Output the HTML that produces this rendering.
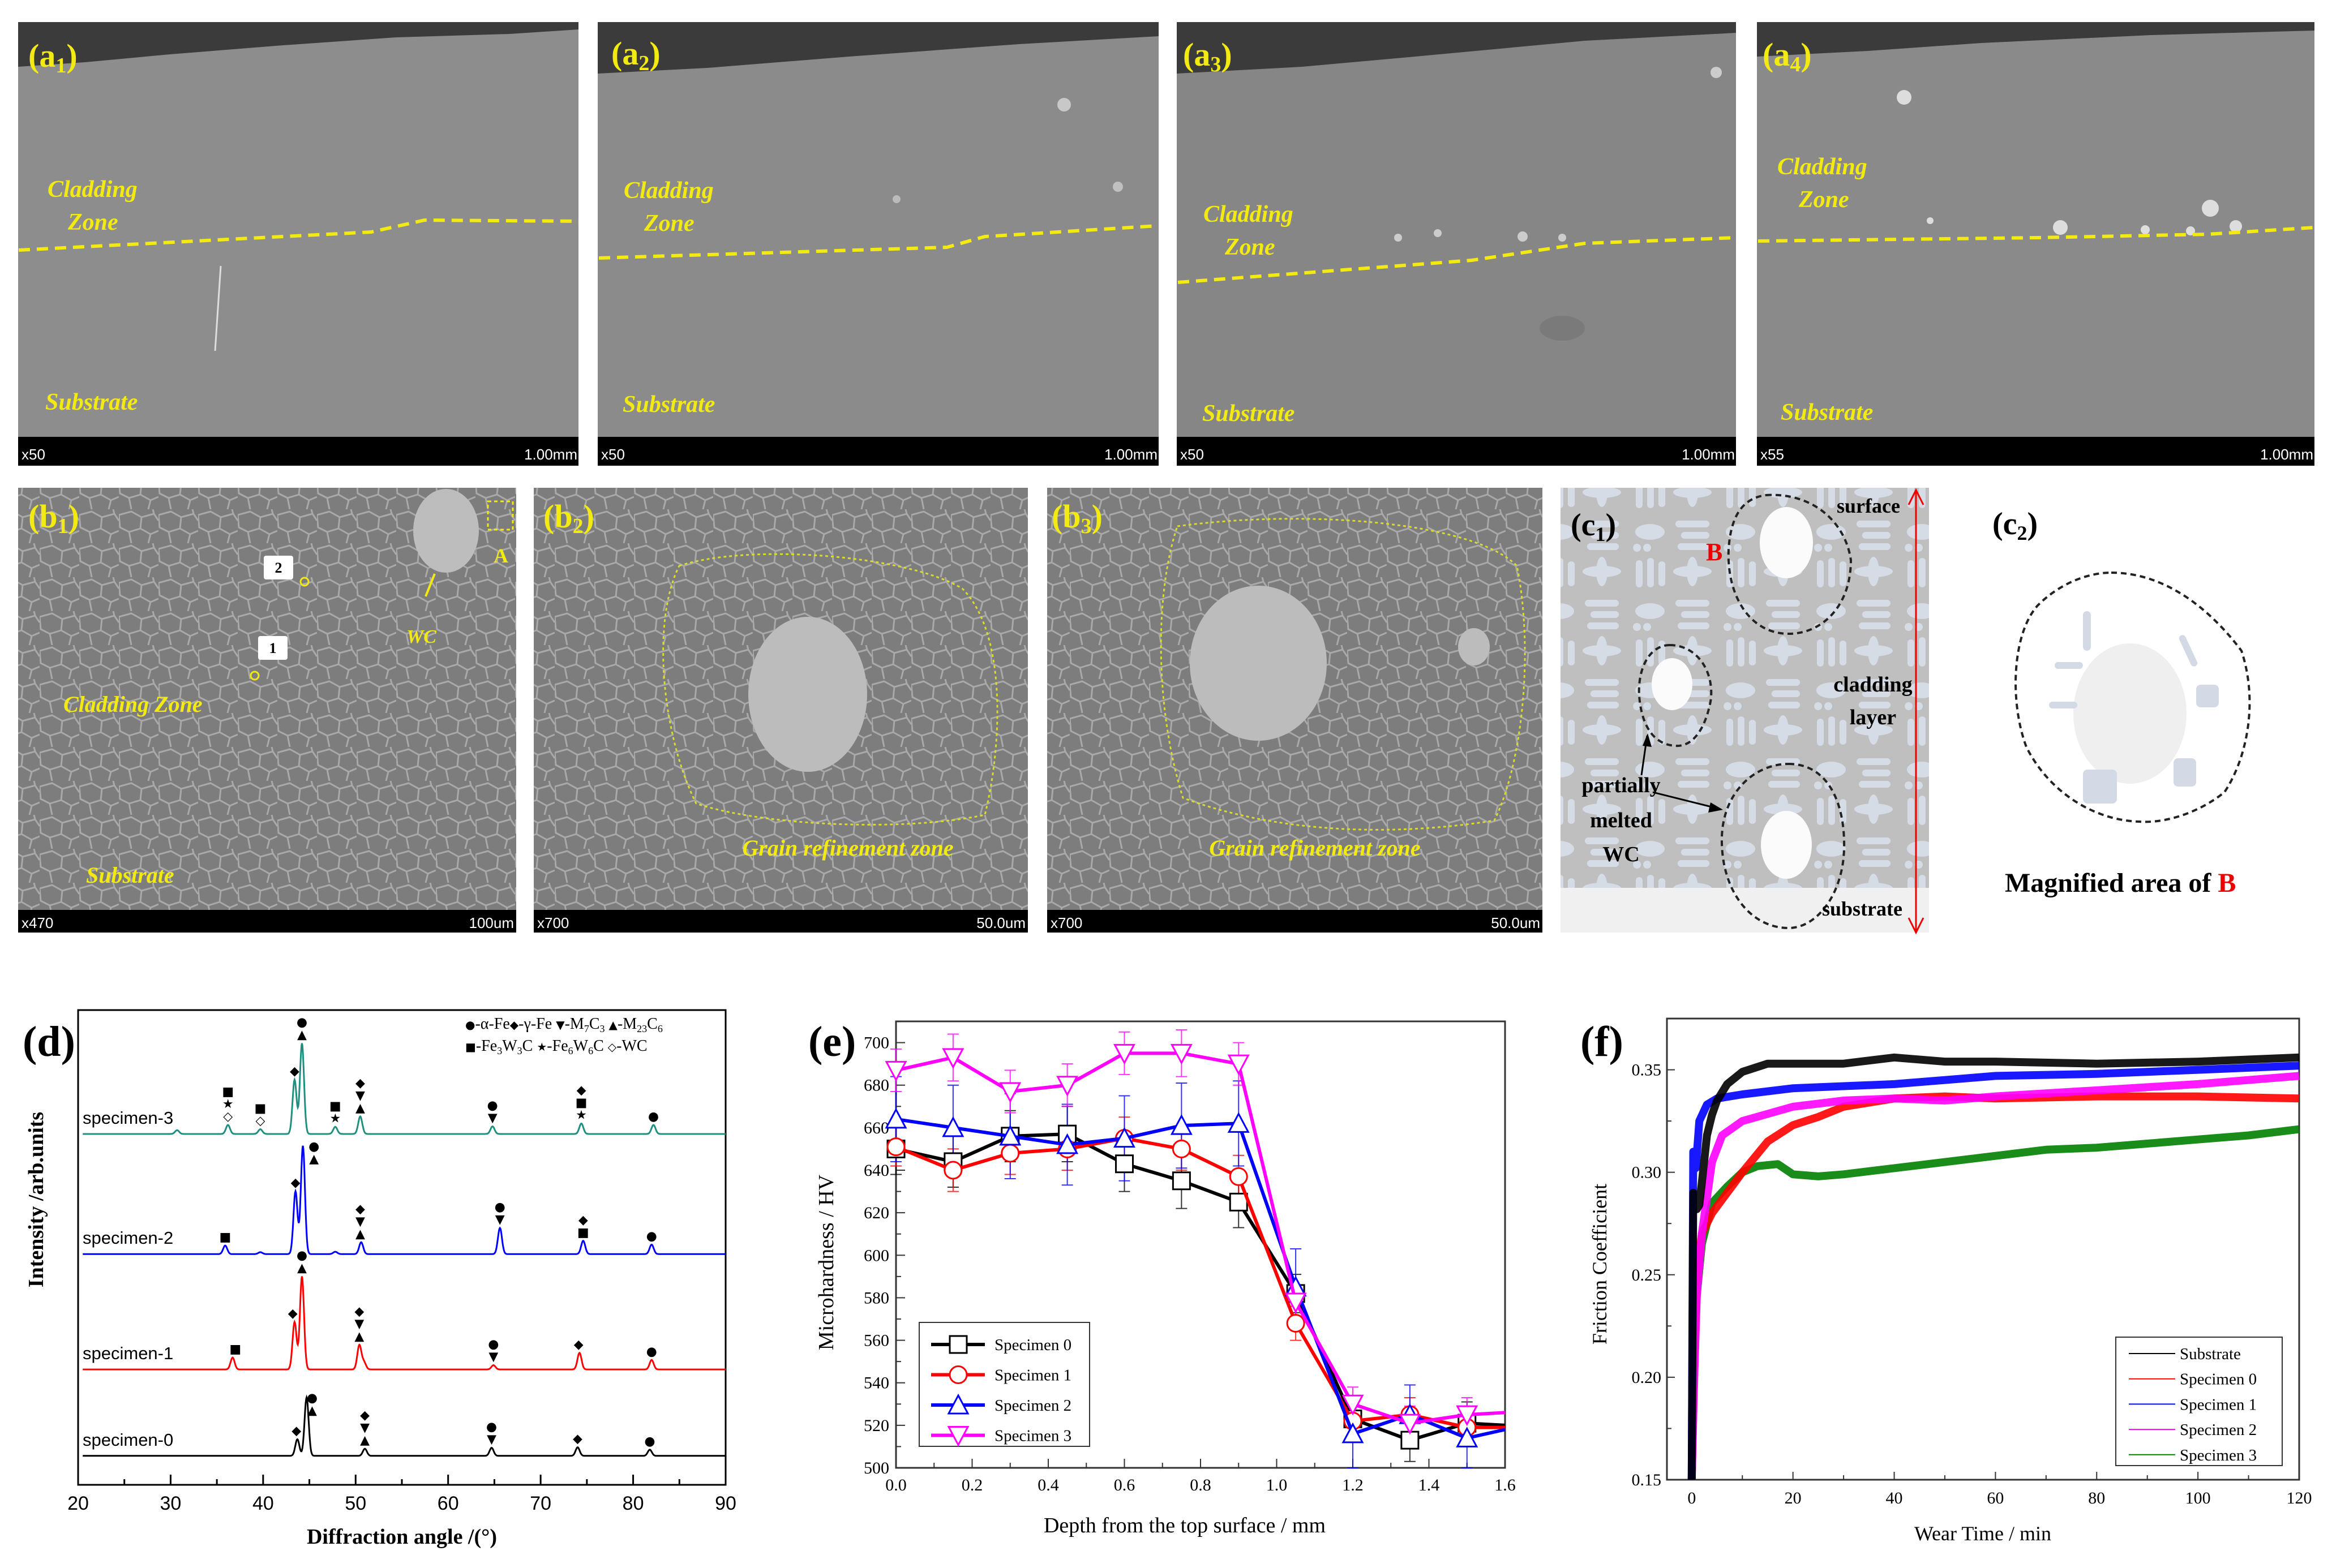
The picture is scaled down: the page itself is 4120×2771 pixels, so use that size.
<!DOCTYPE html>
<html><head><meta charset="utf-8"><style>
html,body{margin:0;padding:0;background:#fff;}
svg{display:block;}
.lab{font-family:"Liberation Serif",serif;font-weight:bold;}
.yl{font-family:"Liberation Serif",serif;font-style:italic;font-weight:bold;fill:#f2ea10;}
.sb{font-family:"Liberation Sans",sans-serif;fill:#fff;font-size:26px;}
.serif{font-family:"Liberation Serif",serif;}
.sans{font-family:"Liberation Sans",sans-serif;}
.sym{font-family:"DejaVu Sans",sans-serif;}
</style></head><body>
<svg id="fig" width="4120" height="2771" viewBox="0 0 4120 2771" xmlns="http://www.w3.org/2000/svg">
<defs>
<pattern id="cells" width="70" height="60" patternUnits="userSpaceOnUse">
<rect width="70" height="60" fill="#7d7d7d"/>
<path d="M0 10 L22 4 L40 14 L38 34 L18 40 L2 32 Z M40 14 L62 8 L70 20 M38 34 L56 44 L70 38 M18 40 L22 60 M56 44 L52 60 M62 8 L60 0" stroke="#a9a9a9" stroke-width="3" fill="none"/>
</pattern>
<pattern id="dend" width="160" height="140" patternUnits="userSpaceOnUse">
<rect width="160" height="140" fill="#bfbfbf"/>
<g fill="#d6dce6">
<rect x="10" y="10" width="12" height="48" rx="6"/><rect x="30" y="6" width="12" height="52" rx="6"/><rect x="50" y="12" width="12" height="44" rx="6"/>
<ellipse cx="110" cy="30" rx="34" ry="10"/><ellipse cx="110" cy="30" rx="10" ry="26"/>
<rect x="80" y="80" width="60" height="12" rx="6"/><rect x="90" y="100" width="50" height="12" rx="6"/><rect x="84" y="120" width="56" height="12" rx="6"/>
<ellipse cx="35" cy="100" rx="26" ry="14"/><circle cx="12" cy="128" r="7"/><circle cx="30" cy="128" r="7"/>
</g>
</pattern>
</defs>

<!-- ===== Row a ===== -->
<g>
<rect x="32" y="39" width="990" height="784" fill="#8d8d8d"/>
<path d="M32 39 H1022 V52 L900 60 L700 66 L500 80 L300 96 L150 110 L32 118 Z" fill="#3b3b3b"/>
<line x1="390" y1="470" x2="380" y2="620" stroke="#ddd" stroke-width="3"/>
<path d="M33 442 L656 410 L750 389 L1022 391" stroke="#f2ea10" stroke-width="6" stroke-dasharray="20 12" fill="none"/>
<text class="yl" x="84" y="348" font-size="42">Cladding</text><text class="yl" x="120" y="406" font-size="42">Zone</text>
<text class="yl" x="80" y="724" font-size="42">Substrate</text>
<text class="lab" x="50" y="118" font-size="58" fill="#f2ea10">(a<tspan font-size="38" dy="10">1</tspan><tspan dy="-10">)</tspan></text>
<rect x="32" y="772" width="990" height="51" fill="#000"/>
<text class="sb" x="38" y="812">x50</text><text class="sb" x="1020" y="812" text-anchor="end">1.00mm</text>
</g>
<g>
<rect x="1056" y="39" width="991" height="784" fill="#8b8b8b"/>
<path d="M1056 39 H2047 V64 L1800 78 L1500 100 L1250 120 L1056 130 Z" fill="#3b3b3b"/>
<circle cx="1880" cy="185" r="12" fill="#c8c8c8"/><circle cx="1975" cy="330" r="9" fill="#c0c0c0"/><circle cx="1584" cy="352" r="7" fill="#bbb"/>
<path d="M1058 456 L1673 437 L1740 418 L2045 399" stroke="#f2ea10" stroke-width="6" stroke-dasharray="20 12" fill="none"/>
<text class="yl" x="1102" y="350" font-size="42">Cladding</text><text class="yl" x="1138" y="408" font-size="42">Zone</text>
<text class="yl" x="1100" y="728" font-size="42">Substrate</text>
<text class="lab" x="1080" y="114" font-size="58" fill="#f2ea10">(a<tspan font-size="38" dy="10">2</tspan><tspan dy="-10">)</tspan></text>
<rect x="1056" y="772" width="991" height="51" fill="#000"/>
<text class="sb" x="1062" y="812">x50</text><text class="sb" x="2045" y="812" text-anchor="end">1.00mm</text>
</g>
<g>
<rect x="2079" y="39" width="988" height="784" fill="#868686"/>
<path d="M2079 39 H3067 V58 L2800 72 L2500 100 L2300 118 L2079 130 Z" fill="#3b3b3b"/>
<circle cx="3032" cy="128" r="10" fill="#ccc"/><circle cx="2470" cy="420" r="7" fill="#ccc"/><circle cx="2540" cy="412" r="7" fill="#ccc"/><circle cx="2690" cy="418" r="9" fill="#ccc"/><circle cx="2760" cy="420" r="7" fill="#ccc"/>
<ellipse cx="2760" cy="580" rx="40" ry="22" fill="#7a7a7a"/>
<path d="M2081 499 L2600 460 L2800 430 L3067 420" stroke="#f2ea10" stroke-width="6" stroke-dasharray="20 12" fill="none"/>
<text class="yl" x="2126" y="392" font-size="42">Cladding</text><text class="yl" x="2164" y="450" font-size="42">Zone</text>
<text class="yl" x="2124" y="744" font-size="42">Substrate</text>
<text class="lab" x="2090" y="116" font-size="58" fill="#f2ea10">(a<tspan font-size="38" dy="10">3</tspan><tspan dy="-10">)</tspan></text>
<rect x="2079" y="772" width="988" height="51" fill="#000"/>
<text class="sb" x="2085" y="812">x50</text><text class="sb" x="3065" y="812" text-anchor="end">1.00mm</text>
</g>
<g>
<rect x="3104" y="39" width="985" height="784" fill="#8a8a8a"/>
<path d="M3104 39 H4089 V54 L3800 62 L3500 76 L3300 90 L3104 100 Z" fill="#3b3b3b"/>
<circle cx="3364" cy="172" r="13" fill="#ddd"/><circle cx="3905" cy="368" r="15" fill="#ddd"/><circle cx="3640" cy="402" r="13" fill="#ddd"/><circle cx="3950" cy="400" r="11" fill="#ddd"/><circle cx="3790" cy="406" r="8" fill="#ddd"/><circle cx="3870" cy="408" r="8" fill="#ddd"/><circle cx="3410" cy="390" r="6" fill="#ddd"/>
<path d="M3106 426 L3600 420 L3900 414 L4089 402" stroke="#f2ea10" stroke-width="6" stroke-dasharray="20 12" fill="none"/>
<text class="yl" x="3140" y="308" font-size="42">Cladding</text><text class="yl" x="3178" y="366" font-size="42">Zone</text>
<text class="yl" x="3146" y="742" font-size="42">Substrate</text>
<text class="lab" x="3114" y="116" font-size="58" fill="#f2ea10">(a<tspan font-size="38" dy="10">4</tspan><tspan dy="-10">)</tspan></text>
<rect x="3104" y="772" width="985" height="51" fill="#000"/>
<text class="sb" x="3110" y="812">x55</text><text class="sb" x="4087" y="812" text-anchor="end">1.00mm</text>
</g>

<!-- ===== Row b ===== -->
<g>
<rect x="32" y="862" width="880" height="786" fill="url(#cells)"/>
<ellipse cx="788" cy="938" rx="58" ry="74" fill="#bdbdbd"/>
<rect x="862" y="886" width="44" height="50" fill="none" stroke="#f2ea10" stroke-width="3" stroke-dasharray="6 5"/>
<text class="lab" x="872" y="994" font-size="36" fill="#f2ea10">A</text>
<rect x="466" y="982" width="52" height="42" fill="#fff" rx="4"/><text class="lab" x="492" y="1012" font-size="26" text-anchor="middle">2</text>
<rect x="456" y="1124" width="52" height="42" fill="#fff" rx="4"/><text class="lab" x="482" y="1154" font-size="26" text-anchor="middle">1</text>
<circle cx="538" cy="1028" r="7" fill="none" stroke="#f2ea10" stroke-width="3"/><circle cx="450" cy="1194" r="7" fill="none" stroke="#f2ea10" stroke-width="3"/>
<line x1="752" y1="1054" x2="768" y2="1014" stroke="#f2ea10" stroke-width="4"/>
<text class="yl" x="718" y="1136" font-size="34">WC</text>
<text class="yl" x="112" y="1258" font-size="40">Cladding Zone</text>
<text class="yl" x="152" y="1560" font-size="40">Substrate</text>
<text class="lab" x="50" y="932" font-size="58" fill="#f2ea10">(b<tspan font-size="38" dy="10">1</tspan><tspan dy="-10">)</tspan></text>
<rect x="32" y="1608" width="880" height="40" fill="#000"/>
<text class="sb" x="38" y="1640">x470</text><text class="sb" x="908" y="1640" text-anchor="end">100um</text>
</g>
<g>
<rect x="943" y="862" width="873" height="786" fill="url(#cells)"/>
<path d="M1200 1000 C1320 960 1600 980 1700 1040 C1780 1120 1770 1320 1740 1440 C1600 1470 1350 1460 1230 1420 C1170 1300 1150 1100 1200 1000 Z" fill="none" stroke="#dada30" stroke-width="3" stroke-dasharray="5 5"/>
<ellipse cx="1427" cy="1227" rx="105" ry="137" fill="#bcbcbc"/>
<text class="yl" x="1498" y="1512" font-size="40" text-anchor="middle">Grain refinement zone</text>
<text class="lab" x="960" y="932" font-size="58" fill="#f2ea10">(b<tspan font-size="38" dy="10">2</tspan><tspan dy="-10">)</tspan></text>
<rect x="943" y="1608" width="873" height="40" fill="#000"/>
<text class="sb" x="949" y="1640">x700</text><text class="sb" x="1812" y="1640" text-anchor="end">50.0um</text>
</g>
<g>
<rect x="1850" y="862" width="875" height="786" fill="url(#cells)"/>
<path d="M2080 930 C2300 900 2600 920 2680 1000 C2710 1150 2690 1350 2640 1450 C2450 1480 2250 1470 2090 1410 C2040 1250 2040 1050 2080 930 Z" fill="none" stroke="#dada30" stroke-width="3" stroke-dasharray="5 5"/>
<ellipse cx="2223" cy="1172" rx="121" ry="137" fill="#bcbcbc"/>
<ellipse cx="2604" cy="1143" rx="28" ry="33" fill="#bcbcbc"/>
<text class="yl" x="2323" y="1512" font-size="40" text-anchor="middle">Grain refinement zone</text>
<text class="lab" x="1858" y="932" font-size="58" fill="#f2ea10">(b<tspan font-size="38" dy="10">3</tspan><tspan dy="-10">)</tspan></text>
<rect x="1850" y="1608" width="875" height="40" fill="#000"/>
<text class="sb" x="1856" y="1640">x700</text><text class="sb" x="2721" y="1640" text-anchor="end">50.0um</text>
</g>

<!-- ===== c1 ===== -->
<g>
<rect x="2757" y="862" width="651" height="707" fill="url(#dend)"/>
<rect x="2757" y="1569" width="651" height="79" fill="#f0f0f0"/>
<ellipse cx="3156" cy="959" rx="47" ry="63" fill="#fbfbfb"/>
<ellipse cx="2954" cy="1209" rx="36" ry="46" fill="#fbfbfb"/>
<ellipse cx="3156" cy="1493" rx="45" ry="60" fill="#fbfbfb"/>
<path d="M3120 875 C3200 870 3260 920 3270 990 C3270 1070 3220 1120 3160 1120 C3090 1120 3050 1050 3054 970 C3058 910 3080 880 3120 875 Z" fill="none" stroke="#222" stroke-width="4" stroke-dasharray="10 7"/>
<path d="M2950 1140 C3000 1140 3030 1190 3022 1240 C3012 1290 2990 1320 2960 1318 C2920 1316 2900 1280 2896 1230 C2893 1180 2915 1140 2950 1140 Z" fill="none" stroke="#222" stroke-width="4" stroke-dasharray="10 7"/>
<path d="M3160 1350 C3230 1350 3260 1420 3258 1500 C3256 1580 3210 1640 3160 1640 C3090 1640 3040 1570 3042 1480 C3044 1400 3100 1350 3160 1350 Z" fill="none" stroke="#222" stroke-width="4" stroke-dasharray="10 7"/>
<line x1="3385" y1="870" x2="3385" y2="1645" stroke="#e00" stroke-width="3"/>
<path d="M3372 892 L3385 866 L3398 892 M3372 1622 L3385 1648 L3398 1622" stroke="#e00" stroke-width="3" fill="none"/>
<text class="serif" x="3245" y="906" font-size="36" font-weight="bold">surface</text>
<text class="serif" x="3014" y="990" font-size="44" font-weight="bold" fill="#e00">B</text>
<text class="serif" x="3309" y="1222" font-size="38" font-weight="bold" text-anchor="middle">cladding</text>
<text class="serif" x="3309" y="1280" font-size="38" font-weight="bold" text-anchor="middle">layer</text>
<text class="serif" x="2864" y="1400" font-size="38" font-weight="bold" text-anchor="middle">partially</text>
<text class="serif" x="2864" y="1462" font-size="38" font-weight="bold" text-anchor="middle">melted</text>
<text class="serif" x="2864" y="1522" font-size="38" font-weight="bold" text-anchor="middle">WC</text>
<path d="M2900 1370 L2910 1300 M2920 1400 L3040 1430" stroke="#000" stroke-width="3"/>
<path d="M2902 1318 L2911 1296 L2918 1320 Z M3022 1418 L3044 1431 L3018 1436 Z" fill="#000"/>
<text class="serif" x="3290" y="1618" font-size="36" font-weight="bold" text-anchor="middle">substrate</text>
<text class="lab" x="2775" y="946" font-size="56" fill="#000">(c<tspan font-size="36" dy="10">1</tspan><tspan dy="-10">)</tspan></text>
</g>
<g>
<text class="lab" x="3520" y="944" font-size="56" fill="#000">(c<tspan font-size="36" dy="10">2</tspan><tspan dy="-10">)</tspan></text>
<path d="M3730 1012 C3820 1012 3900 1070 3960 1150 C3990 1240 3970 1340 3930 1400 C3880 1440 3820 1455 3780 1452 C3700 1450 3620 1400 3580 1320 C3550 1240 3555 1120 3600 1070 C3640 1030 3690 1012 3730 1012 Z" fill="none" stroke="#222" stroke-width="4" stroke-dasharray="10 7"/>
<ellipse cx="3763" cy="1261" rx="100" ry="124" fill="#efefef"/>
<g fill="#d3dae6"><rect x="3680" y="1080" width="14" height="70" rx="7"/><rect x="3630" y="1170" width="50" height="12" rx="6"/><rect x="3620" y="1240" width="50" height="12" rx="6"/><rect x="3860" y="1120" width="12" height="60" rx="6" transform="rotate(-25 3866 1150)"/><rect x="3880" y="1210" width="40" height="40" rx="8"/><rect x="3840" y="1340" width="40" height="50" rx="8"/><rect x="3680" y="1360" width="60" height="60" rx="8"/></g>
<text class="serif" x="3542" y="1576" font-size="48" font-weight="bold">Magnified area of <tspan fill="#e00">B</tspan></text>
</g>

<!-- ===== Charts ===== -->
<g id="chartD"></g>
<g id="chartE"></g>
<g id="chartF"></g>
</svg>

<script>
// ---------- Chart (d) XRD data ----------
const xrdLabels = ["specimen-0", "specimen-1", "specimen-2", "specimen-3"];
const xrdColors = ["#000000", "#ff0000", "#0000ff", "#1f8f80"];
const xrdOffsets = [6.1, 24.3, 48.6, 73.9];
const xrdPeaks0 = [[43.7, 3.5], [44.7, 12.3], [51.0, 1.5], [64.7, 1.7], [74.0, 1.8], [81.8, 1.3]];
const xrdPeaks1 = [[36.7, 2.5], [43.4, 10.0], [44.2, 19.6], [50.4, 5.1], [50.9, 1.5], [64.9, 0.9], [74.2, 3.5], [82.0, 2.0]];
const xrdPeaks2 = [[35.9, 1.8], [39.7, 0.4], [43.5, 13.2], [44.3, 22.8], [47.8, 0.5], [50.6, 2.5], [65.6, 5.5], [74.6, 2.8], [82.0, 2.0]];
const xrdPeaks3 = [[30.7, 0.8], [36.2, 1.9], [39.7, 1.0], [43.4, 11.4], [44.2, 19.1], [47.8, 1.5], [50.5, 3.7], [64.8, 1.6], [74.4, 2.2], [82.2, 1.9]];
const xrdMarks0 = [[43.7, "◆", 43.6], [44.7, "●▲", 45.3], [51.0, "◆▼▲", 51.0], [64.7, "●▼", 64.7], [74.0, "◆", 74.0], [81.8, "●", 81.8]];
const xrdMarks1 = [[36.7, "■", 37.0], [43.4, "◆", 43.2], [44.2, "●▲", 44.2], [50.4, "◆▼▲", 50.4], [64.9, "●▼", 64.9], [74.2, "◆", 74.1], [82.0, "●", 82.0]];
const xrdMarks2 = [[35.9, "■", 35.9], [43.5, "◆", 43.5], [44.3, "●▲", 45.5], [50.6, "◆▼▲", 50.5], [65.6, "●▼", 65.6], [74.6, "◆■", 74.6], [82.0, "●", 82.0]];
const xrdMarks3 = [[36.2, "■★◇", 36.2], [39.7, "■◇", 39.7], [43.4, "◆", 43.4], [44.2, "●▲", 44.2], [47.8, "■★", 47.8], [50.5, "◆▼▲", 50.5], [64.8, "●▼", 64.8], [74.4, "◆■★", 74.4], [82.2, "●", 82.2]];
const xrdTicks = [20, 30, 40, 50, 60, 70, 80, 90];

// ---------- Chart (e) microhardness data ----------
const hvDepth = [0, 0.15, 0.3, 0.45, 0.6, 0.75, 0.9, 1.05, 1.2, 1.35, 1.5, 1.6];
const hvSpec0 = [650, 644, 656, 657, 643, 635, 625, 582, 523, 513, 521, 520];
const hvSpec1 = [651, 640, 648, 650, 655, 650, 637, 568, 522, 525, 519, 519];
const hvSpec2 = [664, 660, 656, 652, 655, 661, 662, 585, 516, 525, 514, 518];
const hvSpec3 = [687, 693, 677, 680, 695, 695, 690, 578, 530, 521, 525, 526];
const hvErr0 = [12, 12, 12, 13, 13, 13, 12, 9, 10, 10, 10];
const hvErr1 = [9, 10, 10, 10, 10, 10, 10, 8, 8, 8, 8];
const hvErr2 = [20, 20, 20, 19, 20, 20, 20, 18, 16, 14, 14];
const hvErr3 = [10, 11, 10, 10, 10, 11, 10, 8, 8, 8, 8];
const hvNames = ["Specimen 0", "Specimen 1", "Specimen 2", "Specimen 3"];
const hvColors = ["#000000", "#ff0000", "#0000ff", "#ff00ff"];
const hvYTicks = [500, 520, 540, 560, 580, 600, 620, 640, 660, 680, 700];
const hvXTicks = [0, 0.2, 0.4, 0.6, 0.8, 1.0, 1.2, 1.4, 1.6];

// ---------- Chart (f) friction data ----------
const fcSubT = [0, 0.3, 0.6, 1, 1.5, 2, 3, 4, 5, 7, 10, 15, 20, 30, 40, 50, 60, 80, 100, 120];
const fcSubV = [0.15, 0.29, 0.288, 0.282, 0.284, 0.295, 0.318, 0.328, 0.335, 0.343, 0.349, 0.353, 0.353, 0.353, 0.356, 0.354, 0.354, 0.353, 0.354, 0.356];
const fcS0T = [0, 0.5, 1, 2, 4, 7, 10, 15, 20, 25, 30, 40, 50, 60, 80, 100, 120];
const fcS0V = [0.15, 0.22, 0.25, 0.27, 0.28, 0.29, 0.30, 0.315, 0.323, 0.327, 0.332, 0.336, 0.337, 0.336, 0.337, 0.337, 0.336];
const fcS1T = [0, 0.3, 0.8, 1.5, 3, 5, 10, 20, 40, 60, 80, 100, 120];
const fcS1V = [0.15, 0.31, 0.302, 0.325, 0.333, 0.336, 0.338, 0.341, 0.343, 0.347, 0.348, 0.35, 0.352];
const fcS2T = [0, 0.5, 1, 2, 4, 6, 10, 20, 30, 40, 50, 60, 80, 100, 120];
const fcS2V = [0.15, 0.2, 0.24, 0.27, 0.305, 0.318, 0.325, 0.332, 0.335, 0.336, 0.335, 0.337, 0.34, 0.343, 0.347];
const fcS3T = [0, 0.5, 1, 2, 4, 7, 10, 13, 17, 20, 25, 30, 40, 50, 60, 70, 80, 90, 100, 110, 120];
const fcS3V = [0.15, 0.21, 0.24, 0.265, 0.285, 0.293, 0.30, 0.303, 0.304, 0.299, 0.298, 0.299, 0.302, 0.305, 0.308, 0.311, 0.312, 0.314, 0.316, 0.318, 0.321];
const fcNames = ["Substrate", "Specimen 0", "Specimen 1", "Specimen 2", "Specimen 3"];
const fcColors = ["#000000", "#ff0000", "#0000ff", "#ff00ff", "#008000"];
const fcYTicks = [0.15, 0.20, 0.25, 0.30, 0.35];
const fcXTicks = [0, 20, 40, 60, 80, 100, 120];

const NS = "http://www.w3.org/2000/svg";
function mk(tag, attrs, parent, txt) {
  const e = document.createElementNS(NS, tag);
  for (const k in attrs) e.setAttribute(k, attrs[k]);
  if (txt !== undefined) e.textContent = txt;
  parent.appendChild(e);
  return e;
}

// ===== Chart D =====
(function () {
  const g = document.getElementById("chartD");
  const L = 138, R = 1282, T = 1785, B = 2624;
  const xd = a => L + (a - 20) / 70 * (R - L);
  const yd = v => B - v * (B - T) / 100;
  const box = mk("rect", { x: L, y: T, width: R - L, height: B - T, fill: "none", stroke: "#000", "stroke-width": 3 }, g);
  
  
  for (let a = 20; a <= 90; a += 5) {
    const major = a % 10 === 0;
    const t = mk("line", { x1: xd(a), x2: xd(a), y1: B, y2: B - (major ? 18 : 10), stroke: "#000", "stroke-width": 3 }, g);
    
    
  }
  xrdTicks.forEach(a => {
    const t = mk("text", { x: xd(a), y: B + 44, "font-size": 34, "text-anchor": "middle", class: "sans" }, g, String(a));
    
    
  });
  const xt = mk("text", { x: (L + R) / 2, y: 2728, "font-size": 38, "text-anchor": "middle", class: "serif", "font-weight": "bold" }, g, "Diffraction angle /(°)");
  
  
  const yt = mk("text", { x: 0, y: 0, "font-size": 38, "text-anchor": "middle", class: "serif", "font-weight": "bold", transform: "translate(76 2120) rotate(-90)" }, g, "Intensity /arb.units");
  
  
  const pl = mk("text", { x: 40, y: 1866, "font-size": 76, class: "serif", "font-weight": "bold" }, g, "(d)");
  
  

  const peaks = [xrdPeaks0, xrdPeaks1, xrdPeaks2, xrdPeaks3];
  const marks = [xrdMarks0, xrdMarks1, xrdMarks2, xrdMarks3];
  const sig = 0.22;
  const inten = (i, a) => { let v = xrdOffsets[i]; peaks[i].forEach(p => { v += p[1] * Math.exp(-((a - p[0]) ** 2) / (2 * sig * sig)); }); return v; };
  for (let i = 0; i < 4; i++) {
    let d = "";
    for (let a = 20.5; a <= 90.001; a += 0.05) d += (d ? "L" : "M") + xd(a).toFixed(1) + " " + yd(inten(i, a)).toFixed(1);
    const p = mk("path", { d: d, fill: "none", stroke: xrdColors[i], "stroke-width": 3 }, g);
    
    
    const lb = mk("text", { x: 146, y: yd(xrdOffsets[i]) - 18, "font-size": 31, class: "sans" }, g, xrdLabels[i]);
    
    
    marks[i].forEach(m => {
      const top = yd(inten(i, m[0]));
      const syms = Array.from(m[1]).reverse();
      const shifted = Math.abs(m[2] - m[0]) > 0.5;
      const base = shifted ? yd(xrdOffsets[i] + peaks[i].reduce((s, p) => Math.abs(p[0] - m[0]) < 0.05 ? p[1] : s, 0)) + 30 : top - 8;
      syms.forEach((s, k) => {
        const t = mk("text", { x: xd(m[2]), y: base - k * 22, "font-size": 22, "text-anchor": "middle", class: "sym" }, g, s);
        
        
      });
    });
  }
  const lg1 = mk("text", { x: 822, y: 1818, "font-size": 28, class: "serif" }, g);
  
  
  lg1.innerHTML = '<tspan class="sym" font-size="20">●</tspan>-α-Fe<tspan class="sym" font-size="20">◆</tspan>-γ-Fe <tspan class="sym" font-size="20">▼</tspan>-M<tspan font-size="18" dy="6">7</tspan><tspan dy="-6">C</tspan><tspan font-size="18" dy="6">3</tspan><tspan dy="-6"> </tspan><tspan class="sym" font-size="20">▲</tspan>-M<tspan font-size="18" dy="6">23</tspan><tspan dy="-6">C</tspan><tspan font-size="18" dy="6">6</tspan>';
  const lg2 = mk("text", { x: 822, y: 1857, "font-size": 28, class: "serif" }, g);
  
  
  lg2.innerHTML = '<tspan class="sym" font-size="20">■</tspan>-Fe<tspan font-size="18" dy="6">3</tspan><tspan dy="-6">W</tspan><tspan font-size="18" dy="6">3</tspan><tspan dy="-6">C  </tspan><tspan class="sym" font-size="20">★</tspan>-Fe<tspan font-size="18" dy="6">6</tspan><tspan dy="-6">W</tspan><tspan font-size="18" dy="6">6</tspan><tspan dy="-6">C  </tspan><tspan class="sym" font-size="20">◇</tspan>-WC';
})();

// ===== Chart E =====
(function () {
  const g = document.getElementById("chartE");
  const L = 1583, R = 2659, T = 1805, B = 2594;
  const xe = v => L + v / 1.6 * (R - L);
  const ye = v => B - (v - 500) / 210 * (B - T);
  const box = mk("rect", { x: L, y: T, width: R - L, height: B - T, fill: "none", stroke: "#333", "stroke-width": 3 }, g);
  
  
  for (let v = 500; v <= 700; v += 10) {
    const t = mk("line", { x1: L, x2: L + (v % 20 === 0 ? 16 : 9), y1: ye(v), y2: ye(v), stroke: "#333", "stroke-width": 2 }, g);
    
    
  }
  hvYTicks.forEach(v => {
    const t = mk("text", { x: L - 12, y: ye(v) + 10, "font-size": 30, "text-anchor": "end", class: "serif" }, g, String(v));
    
    
  });
  for (let v = 0; v <= 1.6001; v += 0.1) {
    const major = Math.round(v * 10) % 2 === 0;
    const t = mk("line", { x1: xe(v), x2: xe(v), y1: B, y2: B - (major ? 16 : 9), stroke: "#333", "stroke-width": 2 }, g);
    
    
  }
  hvXTicks.forEach(v => {
    const t = mk("text", { x: xe(v), y: B + 40, "font-size": 30, "text-anchor": "middle", class: "serif" }, g, v.toFixed(1));
    
    
  });
  const xt = mk("text", { x: 2093, y: 2708, "font-size": 38, "text-anchor": "middle", class: "serif" }, g, "Depth from the top surface / mm");
  
  
  const yt = mk("text", { x: 0, y: 0, "font-size": 38, "text-anchor": "middle", class: "serif", transform: "translate(1472 2231) rotate(-90)" }, g, "Microhardness / HV");
  
  
  const pl = mk("text", { x: 1428, y: 1866, "font-size": 76, class: "serif", "font-weight": "bold" }, g, "(e)");
  
  

  const series = [hvSpec0, hvSpec1, hvSpec2, hvSpec3];
  const errs = [hvErr0, hvErr1, hvErr2, hvErr3];
  const marker = (k, cx, cy, parent, col) => {
    const s = 15;
    if (k === 0) return mk("rect", { x: cx - s, y: cy - s, width: 2 * s, height: 2 * s, fill: "#fff", stroke: col, "stroke-width": 3 }, parent);
    if (k === 1) return mk("circle", { cx: cx, cy: cy, r: s, fill: "#fff", stroke: col, "stroke-width": 3 }, parent);
    if (k === 2) return mk("path", { d: `M${cx} ${cy - s - 2} L${cx + s + 2} ${cy + s} L${cx - s - 2} ${cy + s} Z`, fill: "#fff", stroke: col, "stroke-width": 3 }, parent);
    return mk("path", { d: `M${cx} ${cy + s + 2} L${cx + s + 2} ${cy - s} L${cx - s - 2} ${cy - s} Z`, fill: "#fff", stroke: col, "stroke-width": 3 }, parent);
  };
  series.forEach((arr, k) => {
    const col = hvColors[k];
    errs[k].forEach((e, i) => {
      const x = xe(hvDepth[i]);
      const eb = mk("path", { d: `M${x} ${ye(arr[i] - e)} V${ye(arr[i] + e)} M${x - 10} ${ye(arr[i] - e)} h20 M${x - 10} ${ye(arr[i] + e)} h20`, stroke: col, "stroke-width": 2, fill: "none", opacity: 0.8 }, g);
      
      
    });
  });
  series.forEach((arr, k) => {
    const col = hvColors[k];
    const ln = mk("polyline", { points: arr.map((v, i) => xe(hvDepth[i]) + "," + ye(v)).join(" "), fill: "none", stroke: col, "stroke-width": 6, "stroke-linejoin": "round" }, g);
    
    
    for (let i = 0; i < arr.length - 1; i++) {
      const m = marker(k, xe(hvDepth[i]), ye(arr[i]), g, col);
      
      
    }
  });
  const lg = mk("g", {}, g);
  
  
  mk("rect", { x: 1624, y: 2337, width: 301, height: 219, fill: "#fff", stroke: "#333", "stroke-width": 2 }, lg);
  hvNames.forEach((n, k) => {
    const y = 2376 + k * 53.5;
    mk("line", { x1: 1645, x2: 1740, y1: y, y2: y, stroke: hvColors[k], "stroke-width": 6 }, lg);
    marker(k, 1693, y, lg, hvColors[k]);
    const t = mk("text", { x: 1757, y: y + 10, "font-size": 29, class: "serif" }, lg, n);
    
    
  });
})();

// ===== Chart F =====
(function () {
  const g = document.getElementById("chartF");
  const L = 2945, R = 4062, T = 1800, B = 2615;
  const xf = t => L + (t + 4.9) / 124.9 * (R - L);
  const yf = v => B - (v - 0.15) / 0.225 * (B - T);
  const box = mk("rect", { x: L, y: T, width: R - L, height: B - T, fill: "none", stroke: "#333", "stroke-width": 3 }, g);
  
  
  for (let v = 0.15; v <= 0.3751; v += 0.025) {
    const major = Math.abs(Math.round(v * 40) % 2) === 0;
    const t = mk("line", { x1: L, x2: L + (major ? 14 : 8), y1: yf(v), y2: yf(v), stroke: "#333", "stroke-width": 2 }, g);
    
    
  }
  fcYTicks.forEach(v => {
    const t = mk("text", { x: L - 10, y: yf(v) + 10, "font-size": 30, "text-anchor": "end", class: "serif" }, g, v.toFixed(2));
    
    
  });
  for (let t0 = 0; t0 <= 120; t0 += 10) {
    const t = mk("line", { x1: xf(t0), x2: xf(t0), y1: B, y2: B - (t0 % 20 === 0 ? 14 : 8), stroke: "#333", "stroke-width": 2 }, g);
    
    
  }
  fcXTicks.forEach(v => {
    const t = mk("text", { x: xf(v), y: B + 42, "font-size": 30, "text-anchor": "middle", class: "serif" }, g, String(v));
    
    
  });
  const xt = mk("text", { x: 3503, y: 2722, "font-size": 36, "text-anchor": "middle", class: "serif" }, g, "Wear Time / min");
  
  
  const yt = mk("text", { x: 0, y: 0, "font-size": 36, "text-anchor": "middle", class: "serif", transform: "translate(2838 2234) rotate(-90)" }, g, "Friction Coefficient");
  
  
  const pl = mk("text", { x: 2792, y: 1866, "font-size": 76, class: "serif", "font-weight": "bold" }, g, "(f)");
  
  

  const Ts = [fcSubT, fcS0T, fcS1T, fcS2T, fcS3T];
  const Vs = [fcSubV, fcS0V, fcS1V, fcS2V, fcS3V];
  const order = [4, 1, 3, 2, 0];
  order.forEach(k => {
    const ln = mk("polyline", { points: Ts[k].map((t, i) => xf(t).toFixed(1) + "," + yf(Vs[k][i]).toFixed(1)).join(" "), fill: "none", stroke: fcColors[k], "stroke-width": 14, "stroke-linejoin": "round", opacity: 0.9 }, g);
    
    
  });
  const lg = mk("g", {}, g);
  
  
  mk("rect", { x: 3738, y: 2363, width: 294, height: 227, fill: "#fff", stroke: "#333", "stroke-width": 2 }, lg);
  fcNames.forEach((n, k) => {
    const y = 2392 + k * 44.7;
    mk("line", { x1: 3761, x2: 3843, y1: y, y2: y, stroke: fcColors[k], "stroke-width": 2 }, lg);
    const t = mk("text", { x: 3851, y: y + 10, "font-size": 29, class: "serif" }, lg, n);
    
    
  });
})();
</script>
</body></html>
